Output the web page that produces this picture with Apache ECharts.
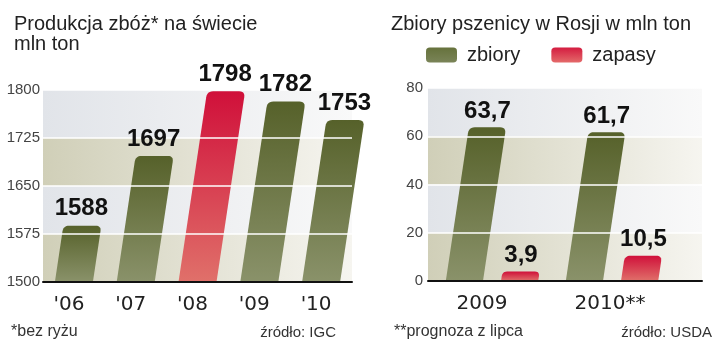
<!DOCTYPE html>
<html>
<head>
<meta charset="utf-8">
<script src="https://cdn.jsdelivr.net/npm/echarts@6/dist/echarts.min.js"></script>
<style>
html,body{margin:0;padding:0;background:#fff;}
#chart{width:720px;height:341px;}
</style>
</head>
<body>
<div id="chart"></div>
<script>
// ---- data ----
const worldYears = ["'06", "'07", "'08", "'09", "'10"];
const worldProduction = [1588, 1697, 1798, 1782, 1753];
const highlightYear = "'08";
const worldTicks = [1500, 1575, 1650, 1725, 1800];

const russiaYears = ["2009", "2010**"];
const russiaHarvest = [63.7, 61.7];   // zbiory
const russiaStocks = [3.9, 10.5];     // zapasy
const russiaTicks = [0, 20, 40, 60, 80];

// ---- styles ----
const FONT = "'Liberation Sans', Arial, sans-serif";
const LG = echarts.graphic.LinearGradient;
const greenFill = () => new LG(0, 0, 0, 1, [{offset: 0, color: '#56612a'}, {offset: 1, color: '#8a926a'}]);
const redFill = () => new LG(0, 0, 0, 1, [{offset: 0, color: '#d0103a'}, {offset: 1, color: '#e0706a'}]);
const oliveBand = new LG(0, 0, 1, 0, [{offset: 0, color: '#d0cfb8'}, {offset: 1, color: '#f6f5f0'}]);
const lightBand = new LG(0, 0, 1, 0, [{offset: 0, color: '#e1e4e9'}, {offset: 1, color: '#f9f9f9'}]);

function quad(pts, a, c, b) {
  for (let i = 0; i <= 6; i++) {
    const t = i / 6, m = 1 - t;
    pts.push([m * m * a[0] + 2 * m * t * c[0] + t * t * b[0], m * m * a[1] + 2 * m * t * c[1] + t * t * b[1]]);
  }
}

function makeRender(cfg, part) {
  return function (params, api) {
    const idx = api.value(0), val = api.value(1);
    const p0 = api.coord([idx, cfg.min]);
    const p1 = api.coord([idx, val]);
    const band = api.size([1, 0])[0];
    const w = band * cfg.widthRatio;
    const cx = p0[0] + band * cfg.offset;
    const by = p0[1], ty = p1[1];
    const h = by - ty;
    const dx = h * cfg.slope;
    if (part === 'label') {
      return {type: 'text', style: {
        text: cfg.fmt(val), x: cx + dx + cfg.labelDx, y: ty - cfg.labelDy,
        align: 'center', verticalAlign: 'middle',
        font: "bold 24px " + FONT, fill: '#111'
      }};
    }
    const r = Math.min(cfg.radius, h / 2, w / 2);
    const BL = [cx - w / 2, by], BR = [cx + w / 2, by];
    const TL = [cx - w / 2 + dx, ty], TR = [cx + w / 2 + dx, ty];
    const len = Math.hypot(dx, h);
    const ux = dx / len, uy = -h / len;
    const pts = [BL];
    quad(pts, [TL[0] - ux * r, TL[1] - uy * r], TL, [TL[0] + r, TL[1]]);
    quad(pts, [TR[0] - r, TR[1]], TR, [TR[0] - ux * r, TR[1] - uy * r]);
    pts.push(BR);
    return {type: 'polygon', shape: {points: pts}, style: {fill: cfg.fill(params.dataIndex)}};
  };
}

const hidden = {show: false};
const worldCfg = {min: worldTicks[0], widthRatio: 0.615, offset: 0, slope: 0.15, radius: 6,
  labelDx: -1, labelDy: 17, fmt: v => String(v),
  fill: i => worldYears[i] === highlightYear ? redFill() : greenFill()};
const harvestCfg = {min: russiaTicks[0], widthRatio: 0.31, offset: -0.23, slope: 0.15, radius: 6,
  labelDx: 0, labelDy: 16, fmt: v => String(v).replace('.', ','), fill: () => greenFill()};
const stocksCfg = {min: russiaTicks[0], widthRatio: 0.31, offset: 0.23, slope: 0.15, radius: 6,
  labelDx: 0, labelDy: 16, fmt: v => String(v).replace('.', ','), fill: () => redFill()};

const worldData = worldYears.map((y, i) => [i, worldProduction[i]]);
const harvestData = russiaYears.map((y, i) => [i, russiaHarvest[i]]);
const stocksData = russiaYears.map((y, i) => [i, russiaStocks[i]]);

const option = {
  animation: false,
  backgroundColor: '#ffffff',
  title: [
    {text: 'Produkcja zbóż* na świecie\nmln ton', left: 9, top: 9,
      textStyle: {fontFamily: FONT, fontSize: 20, lineHeight: 20, fontWeight: 'normal', color: '#222'}},
    {text: 'Zbiory pszenicy w Rosji w mln ton', left: 386, top: 9,
      textStyle: {fontFamily: FONT, fontSize: 20, lineHeight: 20, fontWeight: 'normal', color: '#222'}},
    {text: '*bez ryżu', left: 6, top: 319,
      textStyle: {fontFamily: FONT, fontSize: 16, fontWeight: 'normal', color: '#333'}},
    {text: 'źródło: IGC', right: 379, top: 320,
      textStyle: {fontFamily: FONT, fontSize: 15, fontWeight: 'normal', color: '#333'}},
    {text: '**prognoza z lipca', left: 389, top: 319,
      textStyle: {fontFamily: FONT, fontSize: 16, fontWeight: 'normal', color: '#333'}},
    {text: 'źródło: USDA', right: 3, top: 320,
      textStyle: {fontFamily: FONT, fontSize: 15, fontWeight: 'normal', color: '#333'}}
  ],
  legend: {
    left: 426, top: 45, padding: 0, itemWidth: 31, itemHeight: 15, itemGap: 31, icon: 'roundRect',
    textStyle: {fontFamily: FONT, fontSize: 20, color: '#222', padding: [0, 0, 0, 5]},
    data: [
      {name: 'zbiory', itemStyle: {color: new LG(0, 0, 0, 1, [{offset: 0, color: '#66723c'}, {offset: 1, color: '#7a8458'}])}},
      {name: 'zapasy', itemStyle: {color: new LG(0, 0, 0, 1, [{offset: 0, color: '#d41c40'}, {offset: 1, color: '#e46a6a'}])}}
    ]
  },
  grid: [
    {left: 43, right: 368, top: 90, bottom: 59},   // 0 left background
    {left: 43, right: 368, top: 90, bottom: 59},   // 1 left bars
    {left: 428, right: 18, top: 88, bottom: 60},   // 2 right background
    {left: 428, right: 18, top: 88, bottom: 60},   // 3 right lines
    {left: 432, right: 48, top: 88, bottom: 60}    // 4 right bars
  ],
  xAxis: [
    {gridIndex: 0, type: 'category', data: worldYears, show: false},
    {gridIndex: 1, type: 'category', data: worldYears, z: 4,
      axisLine: {show: true, lineStyle: {color: '#111', width: 2}}, axisTick: hidden,
      axisLabel: {fontFamily: 'DejaVu Sans', fontSize: 20, color: '#222', margin: 13, padding: [0, 10, 0, 0]}},
    {gridIndex: 2, type: 'category', data: russiaYears, show: false},
    {gridIndex: 3, type: 'category', data: russiaYears, z: 4,
      axisLine: {show: true, lineStyle: {color: '#111', width: 2}}, axisTick: hidden, axisLabel: hidden},
    {gridIndex: 4, type: 'category', data: russiaYears,
      axisLine: hidden, axisTick: hidden,
      axisLabel: {margin: 13,
        formatter: v => v === russiaYears[0] ? '{a|' + v + '}' : '{b|' + v + '}',
        rich: {
          a: {fontFamily: 'DejaVu Sans', fontSize: 20, color: '#222', padding: [0, 20, 0, 0]},
          b: {fontFamily: 'DejaVu Sans', fontSize: 20, color: '#222', padding: [0, 4, 0, 0]}
        }}}
  ],
  yAxis: [
    {gridIndex: 0, type: 'value', min: worldTicks[0], max: worldTicks[worldTicks.length - 1], interval: 75,
      axisLine: hidden, axisTick: hidden, axisLabel: hidden, splitLine: hidden,
      splitArea: {show: true, areaStyle: {color: [oliveBand, lightBand]}}},
    {gridIndex: 1, type: 'value', min: worldTicks[0], max: worldTicks[worldTicks.length - 1], interval: 75, z: 4,
      axisLine: hidden, axisTick: hidden,
      axisLabel: {fontFamily: FONT, fontSize: 15, color: '#444', margin: 3, formatter: v => String(v)},
      splitLine: {show: true, lineStyle: {color: '#ffffff', width: 1.5}}},
    {gridIndex: 2, type: 'value', min: russiaTicks[0], max: russiaTicks[russiaTicks.length - 1], interval: 20,
      axisLine: hidden, axisTick: hidden, axisLabel: hidden, splitLine: hidden,
      splitArea: {show: true, areaStyle: {color: [oliveBand, lightBand]}}},
    {gridIndex: 3, type: 'value', min: russiaTicks[0], max: russiaTicks[russiaTicks.length - 1], interval: 20, z: 4,
      axisLine: hidden, axisTick: hidden,
      axisLabel: {fontFamily: FONT, fontSize: 15, color: '#444', margin: 5, formatter: v => String(v)},
      splitLine: {show: true, lineStyle: {color: '#ffffff', width: 1.5}}},
    {gridIndex: 4, type: 'value', min: russiaTicks[0], max: russiaTicks[russiaTicks.length - 1], interval: 20, show: false}
  ],
  series: [
    {name: 'produkcja', type: 'custom', xAxisIndex: 1, yAxisIndex: 1, z: 2, encode: {x: 0, y: 1},
      data: worldData, renderItem: makeRender(worldCfg, 'bar')},
    {name: 'produkcja-etykiety', type: 'custom', xAxisIndex: 1, yAxisIndex: 1, z: 6, encode: {x: 0, y: 1},
      data: worldData, renderItem: makeRender(worldCfg, 'label')},
    {name: 'zbiory', type: 'custom', xAxisIndex: 4, yAxisIndex: 4, z: 2, encode: {x: 0, y: 1},
      itemStyle: {color: '#6b7848'}, data: harvestData, renderItem: makeRender(harvestCfg, 'bar')},
    {name: 'zbiory-etykiety', type: 'custom', xAxisIndex: 4, yAxisIndex: 4, z: 6, encode: {x: 0, y: 1},
      data: harvestData, renderItem: makeRender(harvestCfg, 'label')},
    {name: 'zapasy', type: 'custom', xAxisIndex: 4, yAxisIndex: 4, z: 2, encode: {x: 0, y: 1},
      itemStyle: {color: '#d8283f'}, data: stocksData, renderItem: makeRender(stocksCfg, 'bar')},
    {name: 'zapasy-etykiety', type: 'custom', xAxisIndex: 4, yAxisIndex: 4, z: 6, encode: {x: 0, y: 1},
      data: stocksData, renderItem: makeRender(stocksCfg, 'label')}
  ]
};

const chart = echarts.init(document.getElementById('chart'), null, {renderer: 'canvas'});
chart.setOption(option);
</script>
</body>
</html>
